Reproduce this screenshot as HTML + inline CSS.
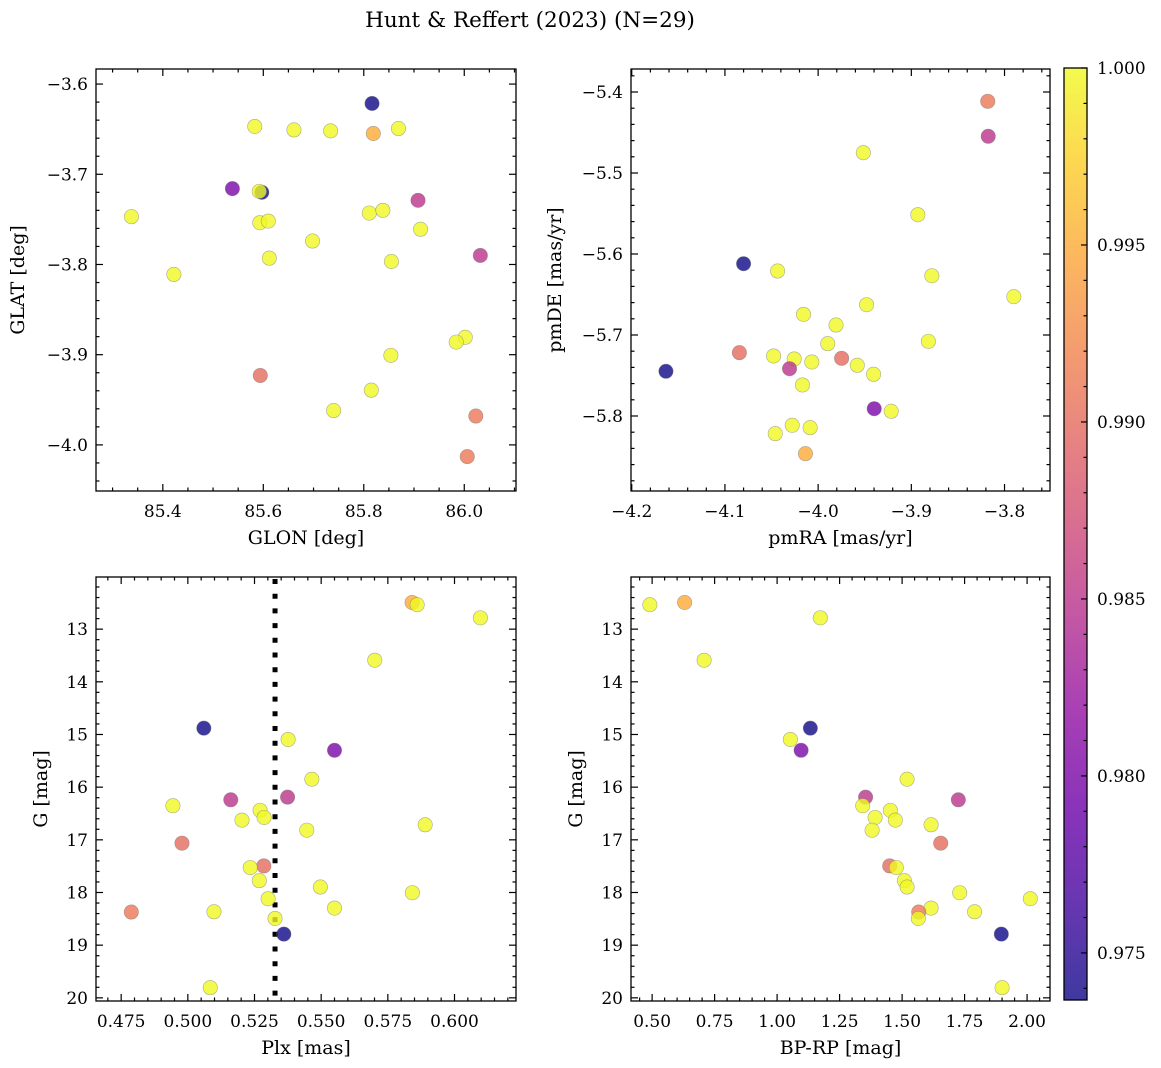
<!DOCTYPE html>
<html><head><meta charset="utf-8">
<style>
html,body{margin:0;padding:0;background:#fff;}
svg{display:block;font-family:"DejaVu Serif","Liberation Serif",serif;}
</style></head>
<body>
<svg id="fig" width="1161" height="1068" viewBox="0 0 1161 1068" xmlns="http://www.w3.org/2000/svg">
<defs>
<linearGradient id="plasmaGrad" x1="0" y1="1" x2="0" y2="0">
<stop offset="0" stop-color="#0d0887"/><stop offset="0.1" stop-color="#41049d"/><stop offset="0.2" stop-color="#6a00a8"/><stop offset="0.3" stop-color="#8f0da4"/><stop offset="0.4" stop-color="#b12a90"/><stop offset="0.5" stop-color="#cc4778"/><stop offset="0.6" stop-color="#e16462"/><stop offset="0.7" stop-color="#f2844b"/><stop offset="0.8" stop-color="#fca636"/><stop offset="0.9" stop-color="#fcce25"/><stop offset="1" stop-color="#f0f921"/>
</linearGradient>
</defs>
<text x="530" y="27" text-anchor="middle" font-size="21.5">Hunt &amp; Reffert (2023) (N=29)</text>
<g id="plots"></g>
</svg>
<script>
// Panel 1: GLON / GLAT
const glon1 = [85.8165,85.819,85.583,85.661,85.734,85.869,85.5385,85.597,85.592,85.908,85.3375,85.811,85.838,85.593,85.610,85.913,85.698,85.612,85.855,86.032,85.422,86.002,85.984,85.854,85.594,85.815,85.740,86.023,86.006];
const glat1 = [-3.6215,-3.6548,-3.647,-3.6508,-3.6519,-3.6493,-3.7159,-3.72,-3.7189,-3.7289,-3.747,-3.743,-3.74,-3.7537,-3.7519,-3.761,-3.774,-3.793,-3.7967,-3.79,-3.811,-3.8807,-3.886,-3.9007,-3.923,-3.9393,-3.9619,-3.968,-4.013];
const prob1 = [0.9737,0.995,1,1,1,1,0.980,0.9737,1,0.985,1,1,1,1,1,1,1,1,1,0.985,1,1,1,1,0.990,1,1,0.991,0.991];
// Panel 2: pmRA / pmDE
const pmra2 = [-3.818,-3.8175,-3.9515,-3.893,-4.080,-4.0435,-3.878,-3.790,-4.0157,-3.948,-3.9808,-3.9897,-3.8817,-4.0845,-4.0478,-4.0257,-4.0068,-3.9748,-3.958,-3.9405,-4.0307,-4.1633,-4.0168,-3.9398,-3.9216,-4.0278,-4.0086,-4.046,-4.0136];
const pmde2 = [-5.4115,-5.4547,-5.475,-5.5515,-5.612,-5.621,-5.6268,-5.6527,-5.6745,-5.6626,-5.6877,-5.7107,-5.7078,-5.7218,-5.7259,-5.7296,-5.7333,-5.7288,-5.7374,-5.7485,-5.7416,-5.7448,-5.7617,-5.791,-5.7942,-5.8115,-5.8144,-5.8218,-5.8465];
const prob2 = [0.991,0.985,1,1,0.9737,1,1,1,1,1,1,1,1,0.990,1,1,1,0.990,1,1,0.985,0.9737,1,0.980,1,1,1,1,0.995];
// Panels 3 & 4: photometry
const gmag = [12.493,12.537,12.785,13.59,14.88,15.095,15.30,15.85,16.19,16.24,16.353,16.44,16.575,16.626,16.714,16.817,17.064,17.495,17.527,17.775,17.896,18.004,18.118,18.296,18.371,18.366,18.493,18.79,19.807];
const plx = [0.5841,0.586,0.6097,0.5701,0.506,0.5376,0.555,0.5465,0.5374,0.5161,0.4944,0.5271,0.5286,0.5203,0.589,0.5446,0.4978,0.5285,0.5234,0.5268,0.5497,0.5842,0.5301,0.555,0.4788,0.5098,0.5327,0.536,0.5084];
const bprp = [0.630,0.491,1.173,0.708,1.133,1.053,1.096,1.52,1.354,1.725,1.3425,1.453,1.392,1.473,1.616,1.38,1.6545,1.4505,1.477,1.509,1.52,1.7305,2.013,1.616,1.5665,1.79,1.565,1.897,1.90];
const prob34 = [0.995,1,1,1,0.9737,1,0.980,1,0.985,0.985,1,1,1,1,1,1,0.990,0.990,1,1,1,1,1,1,0.991,1,1,0.9737,1];
const plxCut = [0.5327];
const cbarTicks = [0.975,0.980,0.985,0.990,0.995,1.000];

const NS = "http://www.w3.org/2000/svg";
const root = document.getElementById('plots');
const VMIN = 0.97367, VMAX = 1.0;
const stops = ["#0d0887","#41049d","#6a00a8","#8f0da4","#b12a90","#cc4778","#e16462","#f2844b","#fca636","#fcce25","#f0f921"];
function hex(h){return [parseInt(h.substr(1,2),16),parseInt(h.substr(3,2),16),parseInt(h.substr(5,2),16)];}
function plasma(v){
  let t=(v-VMIN)/(VMAX-VMIN); t=Math.max(0,Math.min(1,t));
  const f=t*10, i=Math.min(9,Math.floor(f)), r=f-i;
  const a=hex(stops[i]), b=hex(stops[i+1]);
  return 'rgb('+a.map((c,k)=>Math.round(c+(b[k]-c)*r)).join(',')+')';
}
function el(tag, attrs, parent){
  const e=document.createElementNS(NS,tag);
  for(const k in attrs) e.setAttribute(k,attrs[k]);
  (parent||root).appendChild(e); return e;
}
function fmt(v,d){return (v<0?'\u2212':'')+Math.abs(v).toFixed(d);}

function panel(cfg){
  const g=el('g',{});
  
  
  const X=v=>cfg.x0+(v-cfg.xd[0])/(cfg.xd[1]-cfg.xd[0])*(cfg.x1-cfg.x0);
  const Y=cfg.inv ? (v=>cfg.y0+(v-cfg.yd[0])/(cfg.yd[1]-cfg.yd[0])*(cfg.y1-cfg.y0))
                  : (v=>cfg.y1-(v-cfg.yd[0])/(cfg.yd[1]-cfg.yd[0])*(cfg.y1-cfg.y0));
  const lo=Math.min(...cfg.xd), hi=Math.max(...cfg.xd);
  for(let k=Math.ceil(lo/cfg.xmin-1e-6);k*cfg.xmin<=hi+1e-9;k++){
    const v=k*cfg.xmin, px=X(v); if(px<cfg.x0-0.5||px>cfg.x1+0.5) continue;
    const major=Math.abs(v/cfg.xmaj-Math.round(v/cfg.xmaj))<1e-6;
    const L=major?7:3.5;
    el('line',{x1:px,x2:px,y1:cfg.y1,y2:cfg.y1-L,stroke:'#000','stroke-width':1.2},g);
    el('line',{x1:px,x2:px,y1:cfg.y0,y2:cfg.y0+L,stroke:'#000','stroke-width':1.2},g);
    if(major){
      const t=el('text',{x:px,y:cfg.y1+26,'text-anchor':'middle','font-size':17},g);
      
      
      t.textContent=fmt(v,cfg.xdec);
    }
  }
  const ylo=Math.min(...cfg.yd), yhi=Math.max(...cfg.yd);
  for(let k=Math.ceil(ylo/cfg.ymin-1e-6);k*cfg.ymin<=yhi+1e-9;k++){
    const v=k*cfg.ymin, py=Y(v); if(py<cfg.y0-0.5||py>cfg.y1+0.5) continue;
    const major=Math.abs(v/cfg.ymaj-Math.round(v/cfg.ymaj))<1e-6;
    const L=major?7:3.5;
    el('line',{x1:cfg.x0,x2:cfg.x0+L,y1:py,y2:py,stroke:'#000','stroke-width':1.2},g);
    el('line',{x1:cfg.x1,x2:cfg.x1-L,y1:py,y2:py,stroke:'#000','stroke-width':1.2},g);
    if(major){
      const t=el('text',{x:cfg.x0-8,y:py+6,'text-anchor':'end','font-size':17},g);
      
      
      t.textContent=fmt(v,cfg.ydec);
    }
  }
  if(cfg.vline){
    cfg.vline.forEach(v=>{
      const l=el('line',{x1:X(v),x2:X(v),y1:cfg.y0+2,y2:cfg.y1,stroke:'#000','stroke-width':5,'stroke-dasharray':'5 9.7'},g);
      
      
    });
  }
  cfg.xs.forEach((xv,i)=>{
    const c=el('circle',{cx:X(xv),cy:Y(cfg.ys[i]),r:7.2,fill:plasma(cfg.c[i]),'fill-opacity':0.8,stroke:'#777','stroke-opacity':0.6,'stroke-width':0.6},g);
    
    
  });
  const fr=el('rect',{x:cfg.x0,y:cfg.y0,width:cfg.x1-cfg.x0,height:cfg.y1-cfg.y0,fill:'none',stroke:'#000','stroke-width':1.3},g);
  
  
  const xl=el('text',{x:(cfg.x0+cfg.x1)/2,y:cfg.y1+53,'text-anchor':'middle','font-size':19},g);
  
  
  xl.textContent=cfg.xlabel;
  const yx=cfg.ylx, yy=(cfg.y0+cfg.y1)/2;
  const yl=el('text',{x:yx,y:yy,'text-anchor':'middle','font-size':19,transform:'rotate(-90 '+yx+' '+yy+')'},g);
  
  
  yl.textContent=cfg.ylabel;
}

panel({name:'glon-glat-panel',x0:96,x1:516,y0:69,y1:491,xd:[85.267,86.103],yd:[-4.0511,-3.5833],xmaj:0.2,xmin:0.05,ymaj:0.1,ymin:0.02,xdec:1,ydec:1,xs:glon1,ys:glat1,c:prob1,xlabel:'GLON [deg]',ylabel:'GLAT [deg]',ylx:24});
panel({name:'propermotion-panel',x0:631,x1:1050,y0:69,y1:491,xd:[-4.2008,-3.7512],yd:[-5.8926,-5.3716],xmaj:0.1,xmin:0.02,ymaj:0.1,ymin:0.02,xdec:1,ydec:1,xs:pmra2,ys:pmde2,c:prob2,xlabel:'pmRA [mas/yr]',ylabel:'pmDE [mas/yr]',ylx:561});
panel({name:'plx-g-panel',x0:96,x1:516,y0:577,y1:1001,xd:[0.46556,0.62306],yd:[12.01,20.06],inv:true,xmaj:0.025,xmin:0.005,ymaj:1,ymin:0.2,xdec:3,ydec:0,xs:plx,ys:gmag,c:prob34,xlabel:'Plx [mas]',ylabel:'G [mag]',ylx:47,vline:plxCut});
panel({name:'cmd-panel',x0:631,x1:1050,y0:577,y1:1001,xd:[0.4155,2.0917],yd:[12.01,20.06],inv:true,xmaj:0.25,xmin:0.05,ymaj:1,ymin:0.2,xdec:2,ydec:0,xs:bprp,ys:gmag,c:prob34,xlabel:'BP-RP [mag]',ylabel:'G [mag]',ylx:582});

(function(){
  const x0=1064,x1=1087,y0=68,y1=1000;
  const g=el('g',{});
  
  
  el('rect',{x:x0,y:y0,width:x1-x0,height:y1-y0,fill:'url(#plasmaGrad)','fill-opacity':0.8},g);
  const Y=v=>y1-(v-VMIN)/(VMAX-VMIN)*(y1-y0);
  for(let k=974;k<=1000;k++){
    const v=k/1000, py=Y(v);
    if(py<y0-0.5||py>y1+0.5) continue;
    const major=(k%5===0);
    el('line',{x1:x1,x2:x1-(major?6:3.5),y1:py,y2:py,stroke:'#000','stroke-width':1.2},g);
  }
  cbarTicks.forEach(v=>{
    const t=el('text',{x:x1+10,y:Y(v)+6,'font-size':17},g);
    
    
    t.textContent=v.toFixed(3);
  });
  el('rect',{x:x0,y:y0,width:x1-x0,height:y1-y0,fill:'none',stroke:'#000','stroke-width':1.3},g);
})();
</script>
</body></html>
